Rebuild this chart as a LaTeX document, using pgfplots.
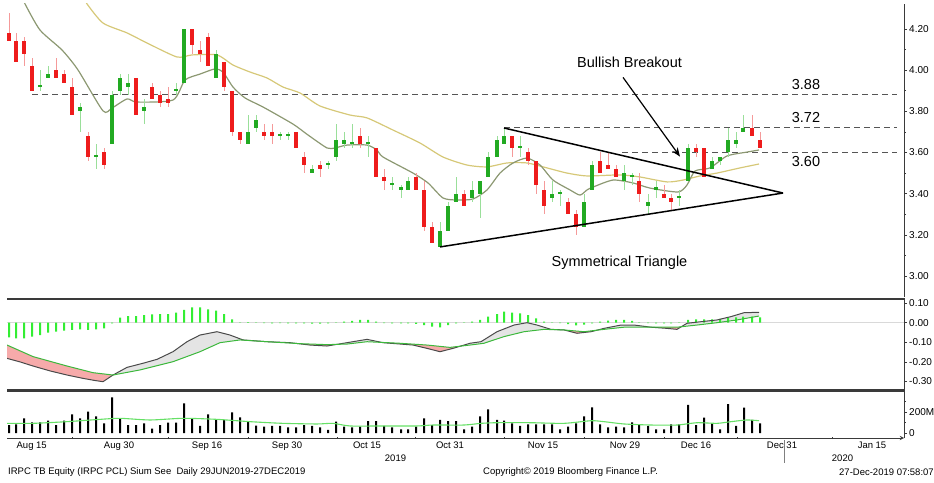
\documentclass[border=0pt]{standalone}
\usepackage{pgfplots}
\pgfplotsset{compat=1.18}
\usepackage{pgfplotstable}
\usetikzlibrary{arrows.meta}
\usepackage{fontspec}
\setmainfont{Liberation Sans}

\definecolor{cred}{HTML}{EE1C1C}
\definecolor{credl}{HTML}{F59A9A}
\definecolor{cgrn}{HTML}{22AA22}
\definecolor{cgrnl}{HTML}{9ADF9A}
\definecolor{maone}{HTML}{8C9872}
\definecolor{matwo}{HTML}{D6C878}
\definecolor{histc}{HTML}{33EE33}
\definecolor{sigc}{HTML}{3CB83C}
\definecolor{macdc}{HTML}{4A4A4A}
\definecolor{vmac}{HTML}{66E066}
\definecolor{pinkf}{HTML}{F6AAAA}
\definecolor{grayf}{HTML}{E4E4E4}
\definecolor{axc}{HTML}{3A3A3A}
\definecolor{dashc}{HTML}{555555}

\pgfplotstableread{
x o h l c
9 4.18 4.28 4.14 4.14
16 4.14 4.18 4.04 4.04
24 4.14 4.16 4.02 4.08
32 4.02 4.06 3.90 3.90
40 3.92 4.00 3.90 3.93
48 3.96 4.02 3.96 3.98
56 4.00 4.06 3.96 3.96
64 3.98 4.00 3.94 3.94
72 3.92 3.96 3.78 3.78
80 3.80 3.84 3.70 3.82
88 3.68 3.70 3.56 3.58
96 3.58 3.64 3.52 3.59
104 3.60 3.62 3.52 3.54
112 3.64 3.90 3.64 3.88
120 3.90 3.98 3.88 3.96
128 3.92 3.98 3.88 3.94
136 3.96 3.96 3.78 3.78
144 3.80 3.86 3.74 3.82
152 3.92 3.94 3.86 3.86
160 3.88 3.90 3.82 3.84
168 3.86 3.92 3.82 3.84
176 3.90 3.94 3.88 3.91
184 3.94 4.20 3.94 4.20
192 4.20 4.20 4.08 4.12
200 4.10 4.14 4.04 4.08
208 4.16 4.18 4.02 4.02
216 3.96 4.10 3.96 4.08
224 4.04 4.04 3.90 3.92
232 3.90 3.90 3.68 3.70
240 3.70 3.70 3.64 3.66
248 3.64 3.78 3.64 3.70
256 3.72 3.78 3.70 3.76
264 3.70 3.74 3.66 3.68
272 3.70 3.74 3.64 3.68
280 3.68 3.70 3.66 3.69
288 3.68 3.70 3.66 3.69
296 3.70 3.70 3.62 3.62
304 3.58 3.60 3.50 3.54
312 3.50 3.54 3.50 3.52
320 3.54 3.56 3.48 3.52
328 3.54 3.56 3.52 3.55
336 3.58 3.74 3.56 3.66
344 3.64 3.70 3.62 3.66
352 3.64 3.74 3.62 3.65
360 3.68 3.72 3.62 3.64
368 3.64 3.68 3.58 3.65
376 3.62 3.62 3.48 3.48
384 3.48 3.52 3.42 3.46
392 3.44 3.48 3.42 3.45
401 3.42 3.44 3.38 3.43
408 3.42 3.48 3.42 3.46
416 3.48 3.50 3.42 3.42
424 3.42 3.46 3.22 3.24
432 3.24 3.26 3.16 3.16
440 3.14 3.26 3.14 3.22
448 3.22 3.36 3.22 3.34
456 3.36 3.48 3.36 3.40
464 3.40 3.42 3.34 3.34
472 3.38 3.46 3.36 3.42
480 3.40 3.46 3.28 3.46
488 3.48 3.60 3.48 3.58
497 3.58 3.68 3.58 3.66
504 3.64 3.72 3.64 3.68
512 3.68 3.68 3.58 3.62
520 3.62 3.68 3.58 3.63
528 3.60 3.62 3.54 3.56
536 3.56 3.56 3.40 3.44
544 3.42 3.46 3.30 3.34
552 3.38 3.46 3.36 3.40
560 3.40 3.42 3.34 3.41
568 3.36 3.38 3.30 3.30
576 3.30 3.32 3.20 3.24
584 3.24 3.40 3.24 3.36
592 3.42 3.56 3.42 3.54
600 3.56 3.60 3.50 3.50
608 3.54 3.60 3.52 3.52
616 3.52 3.54 3.48 3.48
624 3.46 3.54 3.42 3.50
632 3.48 3.50 3.44 3.49
639 3.46 3.50 3.36 3.40
648 3.34 3.40 3.30 3.36
656 3.42 3.46 3.38 3.43
664 3.40 3.44 3.38 3.38
671 3.38 3.40 3.32 3.36
679 3.38 3.42 3.34 3.39
688 3.46 3.64 3.46 3.62
696 3.62 3.64 3.58 3.60
704 3.62 3.62 3.48 3.48
712 3.52 3.58 3.52 3.56
720 3.56 3.58 3.54 3.58
728 3.60 3.72 3.58 3.66
736 3.64 3.70 3.62 3.66
743 3.70 3.78 3.70 3.72
752 3.72 3.78 3.68 3.68
760 3.66 3.70 3.62 3.62
}\candles

\pgfplotstableread{
x v
23 4.35
25 4.322
40 4.195
62 4.098
78 4.001
103 3.802
112 3.816
127 3.860
137 3.845
173 3.855
185 3.952
200 3.981
215 4.006
223 3.991
233 3.918
245 3.865
263 3.821
293 3.738
308 3.685
327 3.622
335 3.622
347 3.636
367 3.636
377 3.612
383 3.578
413 3.500
428 3.452
443 3.379
457 3.369
473 3.374
487 3.418
500 3.500
513 3.549
527 3.573
540 3.539
553 3.466
570 3.418
580 3.393
587 3.418
593 3.432
613 3.466
633 3.452
650 3.427
678 3.408
687 3.442
695 3.510
710 3.525
727 3.583
747 3.602
759 3.612
}\mashort

\pgfplotstableread{
x v
85 4.35
87 4.322
103 4.229
127 4.181
147 4.132
177 4.064
192 4.074
217 4.074
233 4.025
250 3.991
267 3.962
283 3.918
300 3.889
320 3.826
350 3.782
367 3.768
393 3.709
420 3.646
443 3.578
467 3.539
487 3.530
507 3.549
527 3.549
547 3.525
567 3.500
587 3.486
620 3.491
640 3.481
667 3.457
683 3.466
700 3.486
717 3.500
740 3.525
759 3.544
}\malong

\pgfplotstableread{
x v
7 -0.182
20 -0.200
33 -0.221
50 -0.246
67 -0.267
83 -0.284
95 -0.295
103 -0.301
113 -0.267
127 -0.228
143 -0.207
157 -0.187
173 -0.148
187 -0.097
200 -0.063
217 -0.046
230 -0.063
243 -0.088
267 -0.097
290 -0.102
310 -0.114
327 -0.119
347 -0.102
367 -0.085
383 -0.102
413 -0.114
427 -0.131
440 -0.148
453 -0.131
470 -0.105
481 -0.097
497 -0.046
514 -0.012
527 0.000
537 -0.012
551 -0.034
564 -0.037
577 -0.054
591 -0.046
604 -0.029
621 -0.012
634 -0.012
651 -0.023
667 -0.029
677 -0.034
687 -0.003
701 0.005
717 0.014
731 0.031
744 0.051
759 0.053
}\macdline

\pgfplotstableread{
x v
7 -0.114
33 -0.173
67 -0.221
93 -0.255
113 -0.267
140 -0.241
173 -0.199
200 -0.148
220 -0.102
240 -0.088
267 -0.097
300 -0.107
327 -0.112
347 -0.109
367 -0.097
400 -0.105
427 -0.114
450 -0.126
470 -0.114
484 -0.105
504 -0.071
524 -0.046
544 -0.034
564 -0.037
584 -0.046
604 -0.034
624 -0.023
651 -0.023
677 -0.023
697 -0.012
717 0.000
737 0.014
759 0.034
}\sigline

\pgfplotstableread{
x v
9 -0.075
16 -0.080
24 -0.080
32 -0.071
40 -0.063
48 -0.051
56 -0.046
64 -0.041
72 -0.037
80 -0.034
88 -0.037
96 -0.034
104 -0.029
112 -0.003
120 0.026
128 0.034
136 0.034
144 0.039
152 0.043
160 0.044
168 0.044
176 0.051
184 0.065
192 0.078
200 0.078
208 0.068
216 0.061
224 0.044
232 0.017
240 0.002
248 0.003
256 0.002
264 -0.002
272 -0.003
280 -0.002
288 -0.003
296 -0.003
304 -0.004
312 -0.005
320 -0.005
328 -0.004
336 0.001
344 0.005
352 0.009
360 0.014
368 0.014
376 0.005
384 -0.002
392 -0.003
401 -0.003
408 -0.004
416 -0.006
424 -0.012
432 -0.020
440 -0.024
448 -0.012
456 -0.003
464 0.001
472 0.005
480 0.014
488 0.031
497 0.044
504 0.056
512 0.051
520 0.048
528 0.039
536 0.022
544 0.005
552 0.002
560 -0.002
568 -0.007
576 -0.014
584 -0.010
592 -0.003
600 0.005
608 0.010
616 0.014
624 0.014
632 0.009
639 0.002
648 -0.002
656 -0.003
664 -0.003
671 -0.003
679 0.001
688 0.014
696 0.017
704 0.017
712 0.017
720 0.019
728 0.026
736 0.027
743 0.031
752 0.031
760 0.027
}\histdata

\pgfplotstableread{
x v
9 76
16 83
24 140
32 102
40 102
48 117
56 76
64 117
72 178
80 140
88 203
96 159
104 92
112 340
120 140
128 76
136 76
144 92
152 41
160 76
168 98
176 98
184 283
192 140
200 67
208 178
216 124
224 124
232 197
240 149
248 108
256 70
264 60
272 67
280 67
288 54
296 54
304 76
312 67
320 54
328 29
336 108
344 60
352 54
360 60
368 114
376 114
384 67
392 54
401 35
408 35
416 60
424 140
432 76
440 124
448 114
456 114
464 35
472 60
480 159
488 225
497 124
504 117
512 92
520 67
528 83
536 83
544 83
552 83
560 35
568 60
576 92
584 159
592 244
600 83
608 54
616 60
624 54
632 102
639 76
648 67
656 35
664 35
671 83
679 83
688 267
696 76
704 146
712 92
720 35
728 276
736 67
744 241
752 124
760 92
}\voldata

\pgfplotstableread{
x v
7 92
33 92
67 108
100 130
120 140
150 124
183 140
217 130
250 108
283 92
317 86
333 92
350 67
383 67
417 67
433 76
464 76
481 92
497 98
531 98
564 92
591 117
604 108
624 86
651 76
677 76
697 98
717 92
731 108
747 124
759 117
}\volmadata

\pgfplotsset{
  panel/.style={
    scale only axis, width=897pt, xmin=7, xmax=904,
    anchor=south west,
    axis y line=right,
    axis line style={-, axc, line width=0.9pt},
    ytick pos=right, yticklabel pos=right,
    tick align=outside, major tick length=3pt, minor tick length=2pt,
    tick style={axc, line width=0.6pt},
    yticklabel style={font=\fontsize{10}{12}\selectfont, anchor=west, inner sep=2pt},
    /pgf/number format/assume math mode=true,
  },
  wick/.style={only marks, mark=*, mark size=0pt, mark options={draw=none, fill=none}, forget plot,
    error bars/.cd, y dir=both, y explicit, error mark=none,
    error bar style={line width=1pt, #1}},
  body/.style={only marks, mark=*, mark size=0pt, mark options={draw=none, fill=none}, forget plot,
    error bars/.cd, y dir=both, y explicit, error mark=none,
    error bar style={line width=4pt, #1}},
}

\begin{document}
\begin{tikzpicture}
\useasboundingbox (0,0) rectangle (934pt,482pt);
\clip (0,0) rectangle (934pt,482pt);

% ---------------- price panel ----------------
\begin{axis}[panel, axis x line=none, at={(7pt,185pt)}, height=293pt,
  ymin=2.8978, ymax=4.3215,
  ytick={3,3.2,3.4,3.6,3.8,4,4.2}, minor ytick={3.1,3.3,3.5,3.7,3.9,4.1},
  yticklabel style={/pgf/number format/.cd, fixed, fixed zerofill, precision=2}]
  \addplot[dashc, line width=1pt, dash pattern=on 6pt off 4pt] coordinates {(32,3.88) (897,3.88)};
  \addplot[dashc, line width=1pt, dash pattern=on 6pt off 4pt] coordinates {(504,3.72) (897,3.72)};
  \addplot[dashc, line width=1pt, dash pattern=on 6pt off 4pt] coordinates {(622,3.60) (897,3.60)};
  \addplot[matwo, line width=1.2pt, smooth, tension=0.4] table[x=x,y=v] {\malong};
  \addplot[maone, line width=1.2pt, smooth, tension=0.4] table[x=x,y=v] {\mashort};
  \addplot[wick=credl] table[x=x,
     y expr={\thisrow{c}<\thisrow{o} ? (\thisrow{h}+\thisrow{l})/2 : nan},
     y error expr={(\thisrow{h}-\thisrow{l})/2}] {\candles};
  \addplot[wick=cgrnl] table[x=x,
     y expr={\thisrow{c}<\thisrow{o} ? nan : (\thisrow{h}+\thisrow{l})/2},
     y error expr={(\thisrow{h}-\thisrow{l})/2}] {\candles};
  \addplot[body=cred] table[x=x,
     y expr={\thisrow{c}<\thisrow{o} ? (\thisrow{o}+\thisrow{c})/2 : nan},
     y error expr={max(abs(\thisrow{o}-\thisrow{c})/2,0.004)}] {\candles};
  \addplot[body=cgrn] table[x=x,
     y expr={\thisrow{c}<\thisrow{o} ? nan : (\thisrow{o}+\thisrow{c})/2},
     y error expr={max(abs(\thisrow{o}-\thisrow{c})/2,0.004)}] {\candles};
  \addplot[black, line width=1.5pt] coordinates {(504,3.719) (783,3.403)};
  \addplot[black, line width=1.5pt] coordinates {(440,3.141) (783,3.403)};
  \draw[black, line width=1.2pt, -{Stealth[length=9pt,width=7pt]}] (axis cs:623,3.965) -- (axis cs:680,3.58);
\end{axis}

% ---------------- MACD panel ----------------
\begin{axis}[panel, axis x line=none, at={(7pt,93pt)}, height=89pt,
  ymin=-0.3383, ymax=0.1158,
  ytick={-0.3,-0.2,-0.1,0,0.1},
  yticklabel style={/pgf/number format/.cd, fixed, fixed zerofill, precision=2}]
  \addplot[gray!30, line width=1.2pt, forget plot] coordinates {(7,0) (904,0)};
  \addplot[fill=pinkf, draw=none] coordinates {(7,-0.182) (20,-0.200) (33,-0.221) (50,-0.246) (67,-0.267) (83,-0.284) (95,-0.295) (103,-0.301) (113,-0.267) (93,-0.255) (67,-0.221) (33,-0.173) (7,-0.114)};
  \addplot[fill=grayf, draw=none] coordinates {(113,-0.267) (127,-0.228) (143,-0.207) (157,-0.187) (173,-0.148) (187,-0.097) (200,-0.063) (217,-0.046) (230,-0.063) (243,-0.088) (240,-0.088) (220,-0.102) (200,-0.148) (173,-0.199) (140,-0.241) (113,-0.267)};
  \addplot[fill=pinkf, draw=none] coordinates {(300,-0.108) (310,-0.114) (327,-0.119) (337,-0.110) (327,-0.112) (300,-0.108)};
  \addplot[fill=grayf, draw=none] coordinates {(337,-0.110) (347,-0.102) (367,-0.085) (380,-0.099) (367,-0.097) (347,-0.109) (337,-0.110)};
  \addplot[fill=pinkf, draw=none] coordinates {(380,-0.099) (383,-0.102) (413,-0.114) (427,-0.131) (440,-0.148) (453,-0.131) (462,-0.118) (450,-0.126) (427,-0.114) (400,-0.105) (380,-0.100)};
  \addplot[fill=grayf, draw=none] coordinates {(462,-0.118) (470,-0.105) (481,-0.097) (497,-0.046) (514,-0.012) (527,0.000) (537,-0.012) (551,-0.034) (562,-0.037) (544,-0.034) (524,-0.046) (504,-0.071) (484,-0.105) (470,-0.114) (462,-0.118)};
  \addplot[fill=pinkf, draw=none] coordinates {(564,-0.037) (577,-0.054) (591,-0.046) (598,-0.037) (584,-0.046) (564,-0.037)};
  \addplot[fill=grayf, draw=none] coordinates {(598,-0.037) (604,-0.029) (621,-0.012) (634,-0.012) (648,-0.022) (624,-0.023) (604,-0.034) (598,-0.037)};
  \addplot[fill=pinkf, draw=none] coordinates {(648,-0.022) (651,-0.023) (667,-0.029) (677,-0.034) (681,-0.021) (677,-0.023) (651,-0.023)};
  \addplot[fill=grayf, draw=none] coordinates {(681,-0.021) (687,-0.003) (701,0.005) (717,0.014) (731,0.031) (744,0.051) (759,0.053) (759,0.034) (737,0.014) (717,0.000) (697,-0.012) (681,-0.021)};
  \addplot[ybar, bar width=2pt, fill=histc, draw=none] table[x=x,y=v] {\histdata};
  \addplot[macdc, line width=1pt] table[x=x,y=v] {\macdline};
  \addplot[sigc, line width=1pt] table[x=x,y=v] {\sigline};
\end{axis}

% ---------------- volume panel ----------------
\begin{axis}[panel, axis x line=bottom, at={(7pt,44pt)}, height=46pt,
  ymin=-47.6, ymax=390.5,
  ytick={0,200}, yticklabels={0,200M}, minor ytick={100,300},
  xtick={31.7,119,207,287,367,450,543,625,696,782,872},
  xticklabels={Aug 15,Aug 30,Sep 16,Sep 30,Oct 15,Oct 31,Nov 15,Nov 29,Dec 16,Dec 31,Jan 15},
  minor xtick={72,168,248,337,415,504,584,664,737,832},
  major x tick style={draw=none},
  minor x tick style={axc, line width=0.6pt},
  xticklabel style={font=\fontsize{9.5}{11}\selectfont, inner sep=1pt, yshift=-1pt}]
  \addplot[ybar, bar width=2pt, fill=black, draw=none] table[x=x,y=v] {\voldata};
  \addplot[vmac, line width=1.1pt, smooth, tension=0.4] table[x=x,y=v] {\volmadata};
\end{axis}

\draw[axc, line width=2.6pt] (7pt,183pt) -- (905pt,183pt);
\draw[axc, line width=3.2pt] (7pt,91.5pt) -- (905pt,91.5pt);
\draw[gray, line width=0.8pt] (784pt,42pt) -- (784pt,19pt);

\begin{scope}[every node/.style={font=\fontsize{14.5}{17}\selectfont, inner sep=0pt}]
\node at (629.5pt,419.5pt) {Bullish Breakout};
\node at (619.5pt,219pt) {Symmetrical Triangle};
\node at (806pt,397pt) {3.88};
\node at (806pt,364pt) {3.72};
\node at (806pt,320pt) {3.60};
\end{scope}

\begin{scope}[every node/.style={font=\fontsize{9.5}{11}\selectfont, inner sep=0pt}]
\node at (395.5pt,24pt) {2019};
\node at (842.5pt,24pt) {2020};
\node[anchor=west] at (8pt,10pt) {IRPC TB Equity (IRPC PCL) Sium See\ \ Daily 29JUN2019-27DEC2019};
\node[anchor=west] at (483pt,10pt) {Copyright© 2019 Bloomberg Finance L.P.};
\node[anchor=west] at (839pt,10pt) {27-Dec-2019 07:58:07};
\end{scope}
\end{tikzpicture}
\end{document}
